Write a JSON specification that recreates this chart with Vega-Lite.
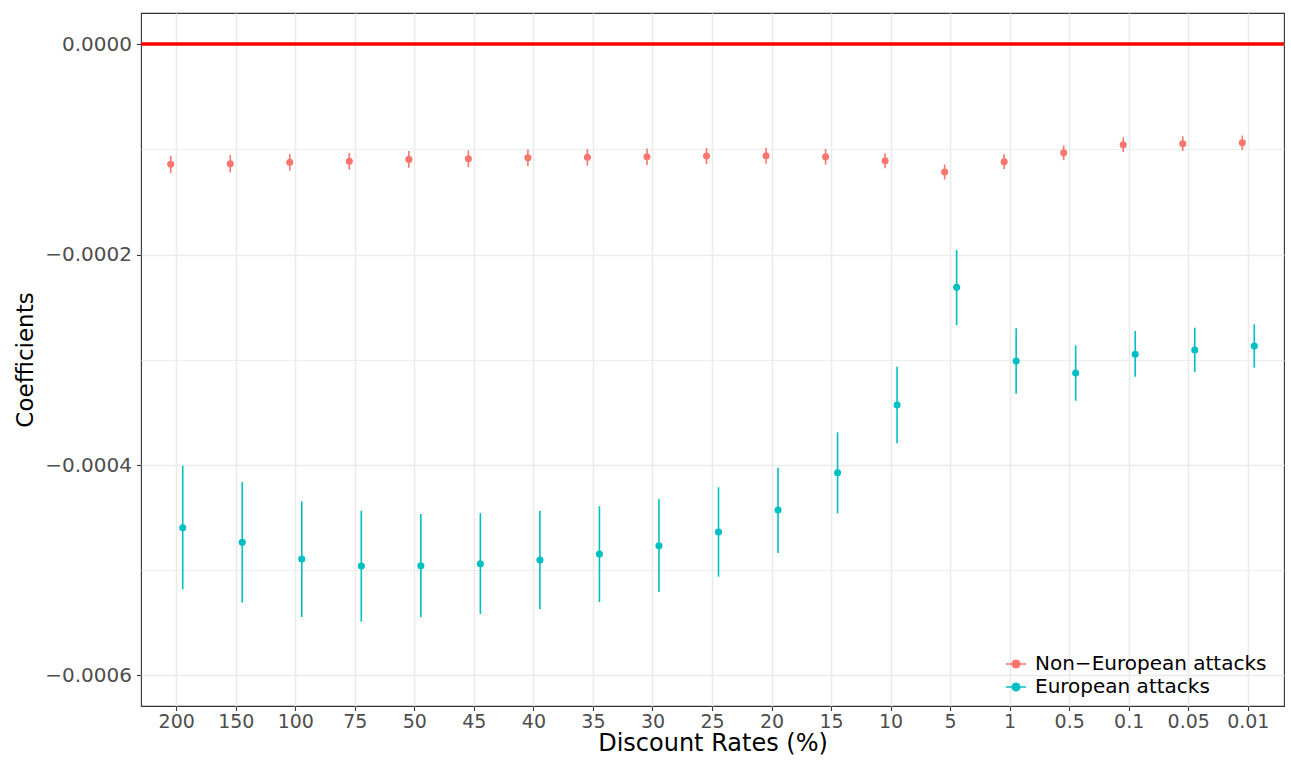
{
  "$schema": "https://vega.github.io/schema/vega-lite/v6.json",
  "width": 1143,
  "height": 693,
  "autosize": {"type": "none"},
  "padding": {"left": 141, "top": 13, "right": 7, "bottom": 54},
  "background": "white",
  "config": {
    "view": {"stroke": "#333333", "strokeWidth": 1.1},
    "font": "DejaVu Sans",
    "axis": {"labelFont": "DejaVu Sans", "titleFont": "DejaVu Sans"},
    "legend": {"labelFont": "DejaVu Sans"}
  },
  "data": {
    "values": [
      {"rate": "200", "group": "Non−European attacks", "est": -0.0001143, "lo": -0.0001226, "hi": -0.0001060},
      {"rate": "150", "group": "Non−European attacks", "est": -0.0001137, "lo": -0.0001220, "hi": -0.0001054},
      {"rate": "100", "group": "Non−European attacks", "est": -0.0001124, "lo": -0.0001204, "hi": -0.0001044},
      {"rate": "75", "group": "Non−European attacks", "est": -0.0001114, "lo": -0.0001194, "hi": -0.0001034},
      {"rate": "50", "group": "Non−European attacks", "est": -0.0001096, "lo": -0.0001176, "hi": -0.0001016},
      {"rate": "45", "group": "Non−European attacks", "est": -0.0001090, "lo": -0.0001170, "hi": -0.0001010},
      {"rate": "40", "group": "Non−European attacks", "est": -0.0001080, "lo": -0.0001160, "hi": -0.0001000},
      {"rate": "35", "group": "Non−European attacks", "est": -0.0001076, "lo": -0.0001155, "hi": -0.0000997},
      {"rate": "30", "group": "Non−European attacks", "est": -0.0001071, "lo": -0.0001149, "hi": -0.0000993},
      {"rate": "25", "group": "Non−European attacks", "est": -0.0001064, "lo": -0.0001141, "hi": -0.0000987},
      {"rate": "20", "group": "Non−European attacks", "est": -0.0001061, "lo": -0.0001137, "hi": -0.0000985},
      {"rate": "15", "group": "Non−European attacks", "est": -0.0001071, "lo": -0.0001146, "hi": -0.0000996},
      {"rate": "10", "group": "Non−European attacks", "est": -0.0001109, "lo": -0.0001181, "hi": -0.0001037},
      {"rate": "5", "group": "Non−European attacks", "est": -0.0001216, "lo": -0.0001288, "hi": -0.0001144},
      {"rate": "1", "group": "Non−European attacks", "est": -0.0001118, "lo": -0.0001188, "hi": -0.0001048},
      {"rate": "0.5", "group": "Non−European attacks", "est": -0.0001033, "lo": -0.0001103, "hi": -0.0000963},
      {"rate": "0.1", "group": "Non−European attacks", "est": -0.0000957, "lo": -0.0001027, "hi": -0.0000887},
      {"rate": "0.05", "group": "Non−European attacks", "est": -0.0000947, "lo": -0.0001017, "hi": -0.0000877},
      {"rate": "0.01", "group": "Non−European attacks", "est": -0.0000938, "lo": -0.0001007, "hi": -0.0000869},
      {"rate": "200", "group": "European attacks", "est": -0.0004596, "lo": -0.0005181, "hi": -0.0004007},
      {"rate": "150", "group": "European attacks", "est": -0.0004734, "lo": -0.0005308, "hi": -0.0004161},
      {"rate": "100", "group": "European attacks", "est": -0.0004893, "lo": -0.0005444, "hi": -0.0004345},
      {"rate": "75", "group": "European attacks", "est": -0.0004960, "lo": -0.0005489, "hi": -0.0004434},
      {"rate": "50", "group": "European attacks", "est": -0.0004957, "lo": -0.0005447, "hi": -0.0004465},
      {"rate": "45", "group": "European attacks", "est": -0.0004938, "lo": -0.0005416, "hi": -0.0004456},
      {"rate": "40", "group": "European attacks", "est": -0.0004903, "lo": -0.0005371, "hi": -0.0004434},
      {"rate": "35", "group": "European attacks", "est": -0.0004846, "lo": -0.0005302, "hi": -0.0004392},
      {"rate": "30", "group": "European attacks", "est": -0.0004767, "lo": -0.0005207, "hi": -0.0004323},
      {"rate": "25", "group": "European attacks", "est": -0.0004636, "lo": -0.0005061, "hi": -0.0004212},
      {"rate": "20", "group": "European attacks", "est": -0.0004427, "lo": -0.0004836, "hi": -0.0004026},
      {"rate": "15", "group": "European attacks", "est": -0.0004073, "lo": -0.0004459, "hi": -0.0003689},
      {"rate": "10", "group": "European attacks", "est": -0.0003430, "lo": -0.0003794, "hi": -0.0003066},
      {"rate": "5", "group": "European attacks", "est": -0.0002312, "lo": -0.0002670, "hi": -0.0001957},
      {"rate": "1", "group": "European attacks", "est": -0.0003012, "lo": -0.0003323, "hi": -0.0002701},
      {"rate": "0.5", "group": "European attacks", "est": -0.0003126, "lo": -0.0003389, "hi": -0.0002863},
      {"rate": "0.1", "group": "European attacks", "est": -0.0002948, "lo": -0.0003161, "hi": -0.0002727},
      {"rate": "0.05", "group": "European attacks", "est": -0.0002907, "lo": -0.0003119, "hi": -0.0002695},
      {"rate": "0.01", "group": "European attacks", "est": -0.0002869, "lo": -0.0003075, "hi": -0.0002663}
    ]
  },
  "layer": [
    {
      "data": {"values": [{"ref": 0}]},
      "mark": {"type": "rule", "color": "#FF0000", "strokeWidth": 3.5},
      "encoding": {
        "y": {"field": "ref", "type": "quantitative", "title": "Coefficients"}
      }
    },
    {
      "transform": [{"filter": "datum.group === 'Non−European attacks'"}],
      "layer": [
        {
          "mark": {"type": "rule", "strokeWidth": 1.6, "xOffset": -6},
          "encoding": {
            "x": {"field": "rate", "type": "ordinal", "title": "Discount Rates (%)",
              "scale": {"type": "band", "domain": ["200","150","100","75","50","45","40","35","30","25","20","15","10","5","1","0.5","0.1","0.05","0.01"], "paddingInner": 0, "paddingOuter": 0.1},
              "axis": {"bandPosition": 0.5, "grid": true, "gridColor": "#EBEBEB", "gridWidth": 1.6, "domain": false, "tickColor": "#333333", "tickSize": 4.5, "tickWidth": 1.1, "labelFontSize": 19, "labelColor": "#4D4D4D", "labelPadding": 1.5, "labelAngle": 0, "titleFontSize": 24, "titleFontWeight": "normal", "titleColor": "#000000", "titleY": 44.5, "titleBaseline": "alphabetic"}},
            "y": {"field": "lo", "type": "quantitative", "title": "Coefficients",
              "scale": {"domain": [-0.000629, 0.0000295], "nice": false, "zero": false},
              "axis": {"values": [0, -0.0001, -0.0002, -0.0003, -0.0004, -0.0005, -0.0006],
                "labelExpr": "round(datum.value*10000) % 2 == 0 ? replace(format(datum.value, '.4f'), '-', '−') : ''",
                "grid": true, "gridColor": "#EBEBEB",
                "gridWidth": {"condition": {"test": "round(datum.value*10000) % 2 != 0", "value": 0.9}, "value": 1.6},
                "tickOpacity": {"condition": {"test": "round(datum.value*10000) % 2 != 0", "value": 0}, "value": 1},
                "domain": false, "tickColor": "#333333", "tickSize": 4.5, "tickWidth": 1.1,
                "labelFontSize": 20, "labelColor": "#4D4D4D", "labelPadding": 5,
                "titleFontSize": 23, "titleFontWeight": "normal", "titleColor": "#000000",
                "titleX": -116, "titleY": 346.5, "titleAlign": "center", "titleBaseline": "middle", "titleAngle": 270}},
            "y2": {"field": "hi"},
            "color": {"field": "group", "type": "nominal",
              "scale": {"domain": ["Non−European attacks", "European attacks"], "range": ["#F8766D", "#00BFC4"]},
              "legend": {"orient": "none", "legendX": 864, "legendY": 640, "title": null, "labelFontSize": 20, "labelColor": "#000000", "labelFont": "DejaVu Sans", "labelLimit": 500,
                "symbolType": "M-1,0L1,0M0.38,0A0.38,0.38,0,1,1,-0.38,0A0.38,0.38,0,1,1,0.38,0",
                "symbolSize": 400, "symbolStrokeWidth": 1.5, "symbolOpacity": 1, "labelOffset": 8, "rowPadding": 2, "padding": 0,
                "encode": {"symbols": {"update": {"fill": {"scale": "color", "field": "value"}, "stroke": {"scale": "color", "field": "value"}, "strokeWidth": {"value": 1.5}, "opacity": {"value": 1}}}}}}
          }
        },
        {
          "mark": {"type": "circle", "size": 50, "opacity": 1, "xOffset": -6},
          "encoding": {
            "x": {"field": "rate", "type": "ordinal"},
            "y": {"field": "est", "type": "quantitative", "title": "Coefficients"},
            "color": {"field": "group", "type": "nominal"}
          }
        }
      ]
    },
    {
      "transform": [{"filter": "datum.group === 'European attacks'"}],
      "layer": [
        {
          "mark": {"type": "rule", "strokeWidth": 1.6, "xOffset": 6},
          "encoding": {
            "x": {"field": "rate", "type": "ordinal"},
            "y": {"field": "lo", "type": "quantitative", "title": "Coefficients"},
            "y2": {"field": "hi"},
            "color": {"field": "group", "type": "nominal"}
          }
        },
        {
          "mark": {"type": "circle", "size": 50, "opacity": 1, "xOffset": 6},
          "encoding": {
            "x": {"field": "rate", "type": "ordinal"},
            "y": {"field": "est", "type": "quantitative", "title": "Coefficients"},
            "color": {"field": "group", "type": "nominal"}
          }
        }
      ]
    }
  ]
}
